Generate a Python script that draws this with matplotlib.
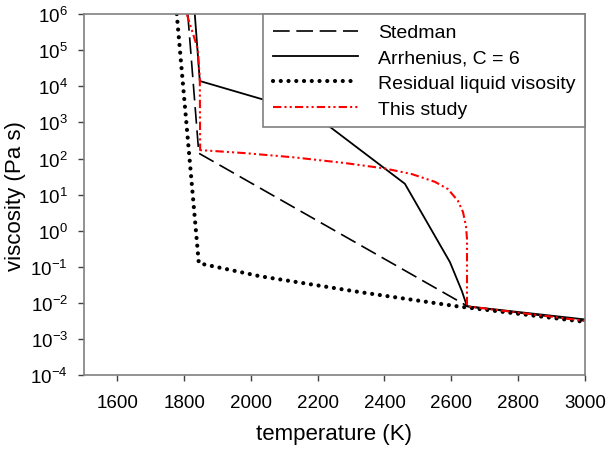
import matplotlib

matplotlib.use("Agg")
import matplotlib.pyplot as plt  # noqa: E402
from matplotlib.ticker import LogLocator, FixedLocator  # noqa: E402

matplotlib.rcParams.update({
    "font.family": ["Liberation Sans", "DejaVu Sans"],
    "mathtext.fontset": "custom",
    "mathtext.rm": "Liberation Sans",
    "mathtext.it": "Liberation Sans",
    "axes.unicode_minus": False,
})

# Stedman
stedman_t = [1811, 1844, 2650, 3000]
stedman_v = [1e6, 140, 8e-3, 3.2e-3]

# Arrhenius, C = 6
arrh_t = [1832, 1847, 2186, 2461, 2596, 2632, 2647, 3000]
arrh_v = [1e6, 1.4e4, 1700, 20, 0.135, 0.021, 8.1e-3, 3.5e-3]

# Residual liquid visosity
resid_t = [1778, 1844, 2027, 2326, 2617, 3000]
resid_v = [1e6, 0.126, 0.055, 0.02, 8.1e-3, 3.0e-3]

# This study
study_t = [1808, 1841, 1847, 1848, 1982, 2132, 2281, 2401, 2482, 2551, 2590,
           2620, 2635, 2644, 2647, 2647, 3000]
study_v = [1e6, 1.07e5, 1.6e4, 171, 141, 107, 75, 53, 37, 22.6, 14.2,
           6.7, 3.3, 1.34, 0.59, 8.1e-3, 3.2e-3]

fig = plt.figure(figsize=(6.08, 4.56), dpi=100)
ax = fig.add_axes([0.138, 0.175, 0.824, 0.792])

ax.plot(stedman_t, stedman_v, color="black", linewidth=1.2,
        linestyle=(0, (10, 4)), label="Stedman")
ax.plot(arrh_t, arrh_v, color="black", linewidth=1.3, label="Arrhenius, C = 6")
ax.plot(resid_t, resid_v, color="black", linewidth=3.0,
        linestyle=(0, (0.01, 1.85)), dash_capstyle="round",
        label="Residual liquid visosity")
ax.plot(study_t, study_v, color="red", linewidth=1.5,
        linestyle=(0, (4, 1.5, 1, 1.5, 1, 1.5)), label="This study")

ax.set_yscale("log")
ax.set_xlim(1500, 3000)
ax.set_ylim(1e-4, 1e6)
ax.yaxis.set_major_locator(LogLocator(base=10, numticks=20))
ax.yaxis.set_minor_locator(FixedLocator([]))
ax.set_xticks(range(1600, 3001, 200))

ax.set_xlabel("temperature (K)", fontsize=16, labelpad=9)
ax.set_ylabel("viscosity (Pa s)", fontsize=16, labelpad=3)
ax.tick_params(axis="both", labelsize=13.5, direction="out", length=4.5,
               width=1, color="#404040")
ax.tick_params(axis="x", pad=9)
ax.tick_params(axis="y", pad=7)
for side in ("top", "right", "left", "bottom"):
    ax.spines[side].set_color("#808080")
    ax.spines[side].set_linewidth(1.2)

# 凡例は不透明にして、その下を通る線を隠す
leg = ax.legend(loc="upper right", bbox_to_anchor=(1.0, 1.0), borderaxespad=0,
                fontsize=14, frameon=True, fancybox=False, framealpha=1.0,
                handlelength=4.4, handletextpad=1.0, labelspacing=0.4,
                borderpad=0.5)
leg.get_frame().set_edgecolor("#808080")
leg.get_frame().set_linewidth(1.2)

fig.savefig("out.png", dpi=100)
